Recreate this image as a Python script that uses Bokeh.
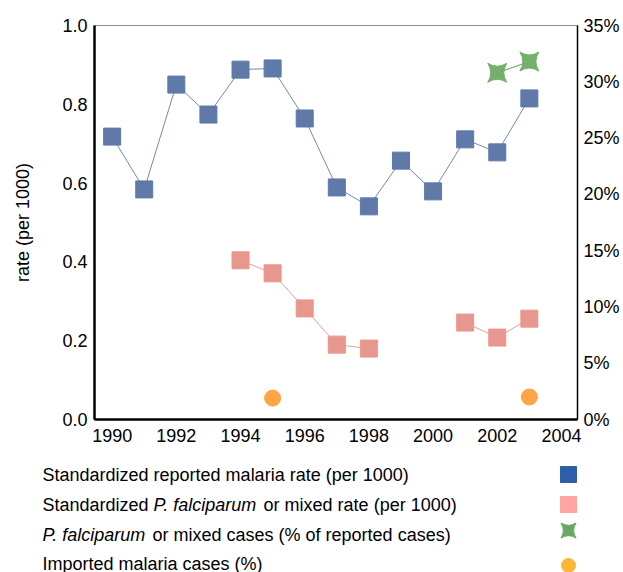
from bokeh.plotting import figure
from bokeh.layouts import column
from bokeh.models import Range1d, LinearAxis, FixedTicker, PrintfTickFormatter, Label
from bokeh.embed import file_html
from bokeh.resources import INLINE
import numpy as np

# ---------------- data ----------------
years = [1990, 1991, 1992, 1993, 1994, 1995, 1996, 1997, 1998, 1999, 2000, 2001, 2002, 2003]
reported_rate = [0.718, 0.584, 0.850, 0.774, 0.888, 0.891, 0.764, 0.589, 0.541, 0.657, 0.579, 0.711, 0.678, 0.815]
falciparum_rate = [np.nan, np.nan, np.nan, np.nan, 0.404, 0.371, 0.282, 0.190, 0.180, np.nan, np.nan, 0.246, 0.208, 0.256]
falc_pct_years = [2002, 2003]
falc_pct = [30.8, 31.8]
imported_years = [1995, 2003]
imported_pct = [1.9, 2.0]
x_ticks = [1990, 1992, 1994, 1996, 1998, 2000, 2002, 2004]
left_ticks = [0.0, 0.2, 0.4, 0.6, 0.8, 1.0]
right_ticks = [0, 5, 10, 15, 20, 25, 30, 35]
legend_rows = [
    [("Standardized reported malaria rate (per 1000)", "normal")],
    [("Standardized ", "normal"), ("P. falciparum", "italic"), (" or mixed rate (per 1000)", "normal")],
    [("P. falciparum", "italic"), (" or mixed cases  (% of reported cases)", "normal")],
    [("Imported malaria cases (%)", "normal")],
]

FONT = "Liberation Sans"
FS = 18

BLUE_M, BLUE_L = "#5F79A8", "#7389B4"
PINK_M, PINK_L = "#E8978E", "#EC9E95"
GREEN = "#74B06B"
ORANGE = "#FFA445"

FL, FR = 94, 577

# ---------------- main chart ----------------
p = figure(width=623, height=458, x_range=Range1d(1989.45, 2004.5), y_range=Range1d(0, 1),
           output_backend="svg", toolbar_location=None,
           min_border_left=FL, min_border_right=623 - FR, min_border_top=25, min_border_bottom=39)
p.frame_align = False
p.extra_y_ranges = {"pct": Range1d(0, 35)}
p.xgrid.visible = False
p.ygrid.visible = False
p.outline_line_color = "#8c8c8c"
p.outline_line_width = 1
p.background_fill_color = "white"
p.border_fill_color = "white"

p.line(years, reported_rate, line_color=BLUE_L, line_width=1)
p.scatter(years, reported_rate, marker="square", size=17, fill_color=BLUE_M, line_color=BLUE_M)

p.line(years, falciparum_rate, line_color=PINK_L, line_width=1)
p.scatter(years, falciparum_rate, marker="square", size=17, fill_color=PINK_M, line_color=PINK_M)

p.line(falc_pct_years, falc_pct, line_color=GREEN, line_width=1.2, y_range_name="pct")
p.scatter(falc_pct_years, falc_pct, marker="square_pin", size=19, fill_color=GREEN, line_color=GREEN,
          y_range_name="pct")

p.scatter(imported_years, imported_pct, marker="circle", size=16, fill_color=ORANGE, line_color=ORANGE,
          y_range_name="pct")

def style_axis(ax, lw):
    ax.major_tick_out = 0
    ax.major_tick_in = 0
    ax.minor_tick_out = 0
    ax.minor_tick_in = 0
    ax.axis_line_color = "black"
    ax.axis_line_width = lw
    ax.major_label_text_font = FONT
    ax.major_label_text_font_size = f"{FS}px"
    ax.major_label_text_color = "black"

xa = p.xaxis[0]
xa.ticker = FixedTicker(ticks=x_ticks)
xa.formatter = PrintfTickFormatter(format="%d")
style_axis(xa, 2.5)
xa.major_label_standoff = 9

ya = p.yaxis[0]
ya.ticker = FixedTicker(ticks=left_ticks)
ya.formatter = PrintfTickFormatter(format="%.1f")
style_axis(ya, 2.5)
ya.major_label_standoff = 7
ya.axis_label = "rate (per 1000)"
ya.axis_label_text_font = FONT
ya.axis_label_text_font_size = f"{FS}px"
ya.axis_label_text_font_style = "normal"
ya.axis_label_text_color = "black"
ya.axis_label_standoff = 26

ra = LinearAxis(y_range_name="pct", ticker=FixedTicker(ticks=right_ticks),
                formatter=PrintfTickFormatter(format="%d%%"))
style_axis(ra, 1.5)
ra.major_label_standoff = 6
p.add_layout(ra, "right")

# ---------------- legend (labels left, swatches right) ----------------
AW = {' ': 278, '%': 889, '(': 333, ')': 333, '.': 278, '0': 556, '1': 556, 'P': 667, 'S': 667,
      'I': 278, 'a': 556, 'c': 500, 'd': 556, 'e': 556, 'f': 278, 'i': 222, 'l': 222, 'm': 833,
      'n': 556, 'o': 556, 'p': 556, 'r': 333, 's': 500, 't': 278, 'u': 556, 'x': 500, 'z': 500,
      'g': 556}

def tw(s):
    return sum(AW.get(c, 556) for c in s) / 1000.0 * FS

LW, LH = 623, 114
lg = figure(frame_width=LW, frame_height=LH, x_range=Range1d(0, LW), y_range=Range1d(LH, 0),
            output_backend="svg", toolbar_location=None,
            x_axis_location=None, y_axis_location=None,
            min_border_left=0, min_border_right=0, min_border_top=0, min_border_bottom=0)
lg.frame_align = False
lg.xgrid.visible = False
lg.ygrid.visible = False
lg.outline_line_color = None

row_y = [16, 46, 76, 105]
text_x0 = 42
for ry, row in zip(row_y, legend_rows):
    x = text_x0
    for txt, style in row:
        lead = len(txt) - len(txt.lstrip(" "))
        xs = x + tw(txt[:lead])
        lg.add_layout(Label(x=xs, y=ry, text=txt.strip(" "), text_font=FONT,
                            text_font_size=f"{FS}px", text_font_style=style, text_baseline="middle",
                            text_align="left", text_color="black"))
        x += tw(txt)

sw_x = 568
lg.scatter([sw_x], [row_y[0]], marker="square", size=16, fill_color="#2E5FA8", line_color="#2E5FA8")
lg.scatter([sw_x], [row_y[1]], marker="square", size=16, fill_color="#FFA3A3", line_color="#FFA3A3")
lg.scatter([sw_x], [row_y[2] - 4], marker="square_pin", size=15, fill_color="#6AA866", line_color="#6AA866")
lg.scatter([sw_x], [row_y[3] + 2], marker="circle", size=14, fill_color="#FFB637", line_color="#FFB637")

layout = column(p, lg, spacing=0)
open("out.html", "w").write(file_html(layout, INLINE))
